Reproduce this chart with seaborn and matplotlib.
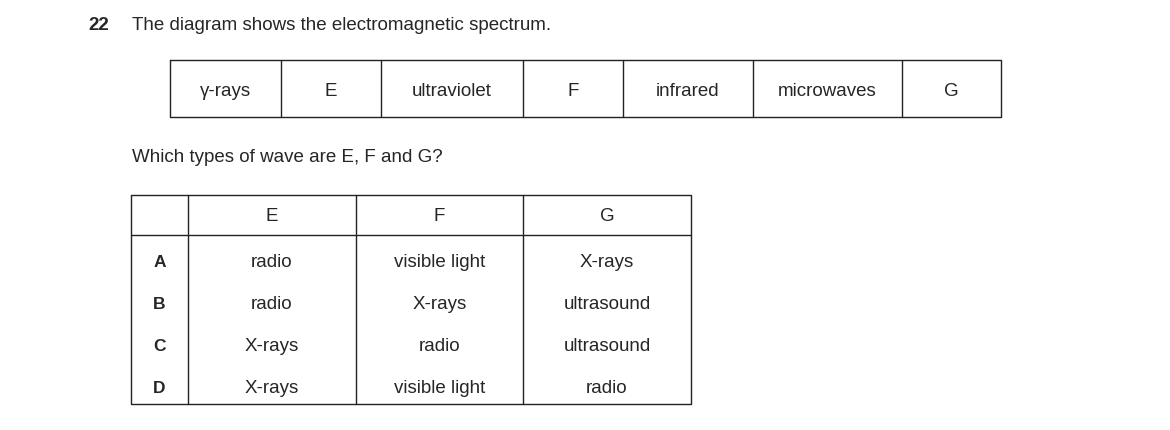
import matplotlib
matplotlib.use("Agg")
import matplotlib.pyplot as plt
import seaborn as sns

question_no = "22"
question = "The diagram shows the electromagnetic spectrum."
prompt = "Which types of wave are E, F and G?"
spectrum = ["γ-rays", "E", "ultraviolet", "F", "infrared", "microwaves", "G"]
headers = ["E", "F", "G"]
options = ["A", "B", "C", "D"]
col_E = ["radio", "radio", "X-rays", "X-rays"]
col_F = ["visible light", "X-rays", "radio", "visible light"]
col_G = ["X-rays", "ultrasound", "ultrasound", "radio"]

sns.set_style("white")
plt.rcParams['font.family'] = ['Liberation Sans', 'DejaVu Sans']

fig = plt.figure(figsize=(11.7, 4.31), dpi=100)
ax = fig.add_axes([0, 0, 1, 1])
ax.set_xlim(0, 1170); ax.set_ylim(431, 0); ax.axis("off")
fs = 13.5
lw = 1.0
col = "#222222"

ax.text(88, 25, question_no, fontsize=fs, fontweight="bold", va="center")
ax.text(132, 25, question, fontsize=fs, va="center")

# spectrum bar
xs = [170, 281, 381, 523, 623, 753, 902, 1001]
y0, y1 = 61, 118
ax.plot([xs[0], xs[-1], xs[-1], xs[0], xs[0]], [y0, y0, y1, y1, y0], color=col, lw=lw)
for x in xs[1:-1]:
    ax.plot([x, x], [y0, y1], color=col, lw=lw)
for i, lab in enumerate(spectrum):
    ax.text((xs[i] + xs[i + 1]) / 2, 91, lab, fontsize=fs, ha="center", va="center")

ax.text(132, 158, prompt, fontsize=fs, va="center")

# answer table
tx = [131, 188, 356, 523, 691]
ty0, th, ty1 = 196, 236, 405
ax.plot([tx[0], tx[-1], tx[-1], tx[0], tx[0]], [ty0, ty0, ty1, ty1, ty0], color=col, lw=lw)
ax.plot([tx[0], tx[-1]], [th, th], color=col, lw=lw)
for x in tx[1:-1]:
    ax.plot([x, x], [ty0, ty1], color=col, lw=lw)
for j, h in enumerate(headers):
    ax.text((tx[j + 1] + tx[j + 2]) / 2, 217, h, fontsize=fs, ha="center", va="center")
rows_y = [263, 305, 347, 389]
for i, opt in enumerate(options):
    y = rows_y[i]
    ax.text((tx[0] + tx[1]) / 2, y, opt, fontsize=fs - 1, fontweight="bold", ha="center", va="center")
    for j, v in enumerate([col_E[i], col_F[i], col_G[i]]):
        ax.text((tx[j + 1] + tx[j + 2]) / 2, y, v, fontsize=fs, ha="center", va="center")

fig.savefig("out.png", dpi=100, facecolor="white")
